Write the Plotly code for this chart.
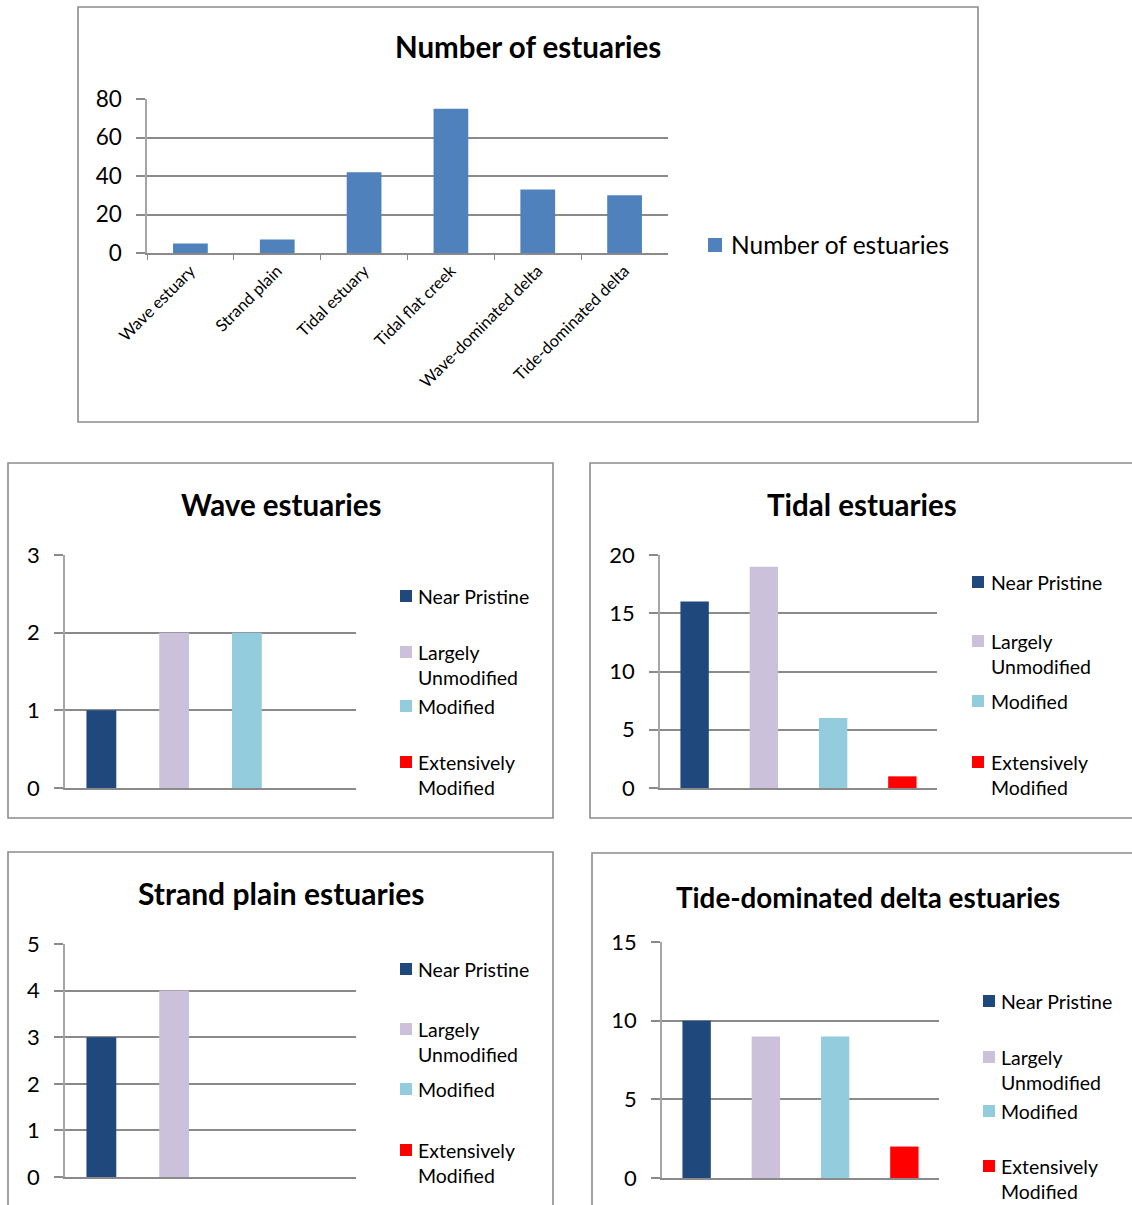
import plotly.graph_objects as go

# ---- data ----
categories = ["Wave estuary", "Strand plain", "Tidal estuary", "Tidal flat creek",
              "Wave-dominated delta", "Tide-dominated delta"]
estuary_counts = [5, 7, 42, 75, 33, 30]

condition_classes = ["Near Pristine", "Largely Unmodified", "Modified", "Extensively Modified"]
legend_labels = ["Near Pristine", "Largely<br>Unmodified", "Modified", "Extensively<br>Modified"]
condition_colors = ["#1F497D", "#CCC1DA", "#93CDDD", "#FF0000"]

wave_counts = [1, 2, 2, 0]
tidal_counts = [16, 19, 6, 1]
strand_counts = [3, 4, 0, 0]
tide_delta_counts = [10, 9, 9, 2]

W, H = 1132, 1205
FONT = "Lato, 'Open Sans', sans-serif"
GRID = "#8A8A8A"
AXIS = "#A6A6A6"
BORDER = "#8C8C8C"


def px_x(v):
    return v / W


def px_y(v):
    return 1 - v / H


fig = go.Figure()
shapes = []
annotations = []


def add_box(x0, y0, x1, y1):
    shapes.append(dict(type="rect", xref="paper", yref="paper",
                       x0=px_x(x0), x1=px_x(x1), y0=px_y(y1), y1=px_y(y0),
                       line=dict(color=BORDER, width=1.6), fillcolor="rgba(0,0,0,0)",
                       layer="below"))


def add_title(text, cx, cy, size=29.5):
    annotations.append(dict(text=f"<b>{text}</b>", x=px_x(cx), y=px_y(cy),
                            xref="paper", yref="paper", xanchor="center", yanchor="middle",
                            showarrow=False, font=dict(family=FONT, size=size, color="#000")))


def axis_pair(idx, xr, yr, ymax, dtick, ncat, tick_size, cats, show_xlabels=False):
    sfx = "" if idx == 1 else str(idx)
    xa = dict(domain=[px_x(xr[0]), px_x(xr[1])], anchor="y" + sfx,
              type="category", categoryorder="array", categoryarray=cats,
              range=[-0.5, ncat - 0.5], showgrid=False, zeroline=False,
              showline=True, linecolor=GRID, linewidth=1.5,
              automargin=False, fixedrange=True)
    if show_xlabels:
        xa.update(showticklabels=True, tickangle=-45, ticks="outside", ticklen=5,
                  tickcolor=GRID, tickson="boundaries",
                  tickfont=dict(family=FONT, size=16.5, color="#000"))
    else:
        xa.update(showticklabels=False, ticks="")
    ya = dict(domain=[px_y(yr[1]), px_y(yr[0])], anchor="x" + sfx,
              range=[0, ymax], dtick=dtick, tick0=0,
              showgrid=True, gridcolor=GRID, gridwidth=1.5,
              zeroline=False, showline=True, linecolor=AXIS, linewidth=1.5,
              ticks="outside", ticklen=9, tickcolor=GRID, tickwidth=1.5,
              ticklabelstandoff=10,
              tickfont=dict(family=FONT, size=tick_size, color="#000"),
              automargin=False, fixedrange=True)
    fig.layout["xaxis" + sfx] = xa
    fig.layout["yaxis" + sfx] = ya
    return "x" + sfx, "y" + sfx


# ---- overview chart: number of estuaries per type ----
add_box(78, 7, 978, 422)
add_title("Number of estuaries", 528, 47)
xa, ya = axis_pair(1, (147, 668), (99, 253), 80, 20, len(categories), 22.5,
                   categories, show_xlabels=True)
fig.add_trace(go.Bar(x=categories, y=estuary_counts, name="Number of estuaries",
                     marker=dict(color="#4F81BD", line=dict(width=0)),
                     width=0.4, xaxis=xa, yaxis=ya, showlegend=False))
shapes.append(dict(type="rect", xref="paper", yref="paper",
                   x0=px_x(708), x1=px_x(722), y0=px_y(252), y1=px_y(238),
                   fillcolor="#4F81BD", line=dict(width=0)))
annotations.append(dict(text="Number of estuaries", x=px_x(729), y=px_y(245),
                        xref="paper", yref="paper", xanchor="left", yanchor="middle",
                        showarrow=False, font=dict(family=FONT, size=24.5, color="#000")))

# ---- condition breakdown panels ----
panels = [
    dict(title="Wave estuaries", values=wave_counts, box=(8, 463, 553, 818),
         title_xy=(281, 504), title_size=29.5,
         plot_x=(65, 356), plot_y=(555, 788), ymax=3, dtick=1,
         leg_sq=400, leg_txt=416, leg_y=[596, 652, 706, 762]),
    dict(title="Tidal estuaries", values=tidal_counts, box=(590, 463, 1140, 818),
         title_xy=(862, 504), title_size=29.5,
         plot_x=(660, 937), plot_y=(555, 788), ymax=20, dtick=5,
         leg_sq=972, leg_txt=989, leg_y=[582, 641, 701, 762]),
    dict(title="Strand plain estuaries", values=strand_counts, box=(8, 852, 553, 1215),
         title_xy=(281, 893), title_size=30,
         plot_x=(65, 356), plot_y=(944, 1177), ymax=5, dtick=1,
         leg_sq=400, leg_txt=416, leg_y=[969, 1029, 1089, 1150]),
    dict(title="Tide-dominated delta estuaries", values=tide_delta_counts,
         box=(592, 853, 1140, 1215),
         title_xy=(868, 897), title_size=27.8,
         plot_x=(662, 939), plot_y=(942, 1178), ymax=15, dtick=5,
         leg_sq=983, leg_txt=999, leg_y=[1001, 1057, 1111, 1166]),
]

LINE_H = 25.5
for i, p in enumerate(panels, start=2):
    add_box(*p["box"])
    add_title(p["title"], *p["title_xy"], size=p["title_size"])
    xa, ya = axis_pair(i, p["plot_x"], p["plot_y"], p["ymax"], p["dtick"],
                       len(condition_classes), 22, condition_classes)
    for cls, val, col in zip(condition_classes, p["values"], condition_colors):
        fig.add_trace(go.Bar(x=[cls], y=[val], name=cls,
                             marker=dict(color=col, line=dict(width=0)),
                             width=0.41, xaxis=xa, yaxis=ya, showlegend=False))
    for lab, col, ly in zip(legend_labels, condition_colors, p["leg_y"]):
        shapes.append(dict(type="rect", xref="paper", yref="paper",
                           x0=px_x(p["leg_sq"]), x1=px_x(p["leg_sq"] + 12),
                           y0=px_y(ly + 6), y1=px_y(ly - 6),
                           fillcolor=col, line=dict(width=0)))
        nlines = lab.count("<br>") + 1
        annotations.append(dict(text=lab, x=px_x(p["leg_txt"]),
                                y=px_y(ly + (nlines - 1) * LINE_H / 2),
                                xref="paper", yref="paper", xanchor="left",
                                yanchor="middle", align="left", showarrow=False,
                                font=dict(family=FONT, size=19.5, color="#000")))

fig.update_layout(template="none", width=W, height=H, autosize=False,
                  margin=dict(l=0, r=0, t=0, b=0, pad=0, autoexpand=False),
                  paper_bgcolor="white", plot_bgcolor="white",
                  barmode="overlay", showlegend=False,
                  font=dict(family=FONT, color="#000"),
                  shapes=shapes, annotations=annotations)

fig.write_html("out.html", config={"displayModeBar": False})
